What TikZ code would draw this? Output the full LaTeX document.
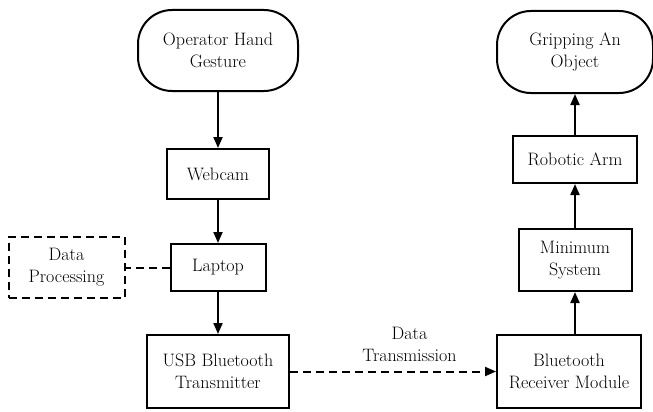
\documentclass[tikz,border=0pt]{standalone}
\usetikzlibrary{arrows.meta,positioning}
\tikzset{
  flow/.style={-{Triangle[length=11pt,width=9pt]},line width=2pt},
  link/.style={line width=2pt,dash pattern=on 8pt off 5pt},
  box/.style={draw,line width=2pt,align=center,inner sep=2pt},
  termbox/.style={box,rounded corners=34pt},
  notebox/.style={box,dash pattern=on 8pt off 5pt}
}
\begin{document}
\begin{tikzpicture}[x=1pt,y=-1pt,node distance=42pt,font=\fontsize{18}{22}\selectfont]
  \useasboundingbox (0,0) rectangle (653,412);
  % left column: capture and sending
  \node[termbox,minimum width=160pt,minimum height=81pt] (gesture) at (218,50.5) {Operator Hand\\Gesture};
  \node[box,minimum width=102pt,minimum height=50pt,below=56pt of gesture] (webcam) {Webcam};
  \node[box,minimum width=95pt,minimum height=47pt,below=43pt of webcam] (laptop) {Laptop};
  \node[notebox,minimum width=116pt,minimum height=61pt,left=44pt of laptop] (dataproc) {Data\\Processing};
  \node[box,minimum width=142pt,minimum height=73pt,below=of laptop] (usbtx) {USB Bluetooth\\Transmitter};
  % right column: receiving and gripping
  \node[box,minimum width=144pt,minimum height=73pt,right=206pt of usbtx] (receiver) {Bluetooth\\Receiver Module};
  \node[box,minimum width=113pt,minimum height=62pt,above=of receiver,xshift=6pt] (minsys) {Minimum\\System};
  \node[box,minimum width=124pt,minimum height=47pt,above=44pt of minsys] (arm) {Robotic Arm};
  \node[termbox,minimum width=156pt,minimum height=82pt,above=41pt of arm] (grip) {Gripping An\\Object};
  \draw[flow] (gesture) -- (webcam);
  \draw[flow] (webcam) -- (laptop);
  \draw[flow] (laptop) -- (usbtx);
  \draw[link] (laptop) -- (dataproc);
  \draw[link,-{Triangle[length=11pt,width=9pt]}] (usbtx) -- node[pos=0.58,above=6pt,align=center] (txlabel) {Data\\Transmission} (receiver);
  \draw[flow] (receiver.north -| minsys.south) -- (minsys.south);
  \draw[flow] (minsys) -- (arm);
  \draw[flow] (arm) -- (grip);
\end{tikzpicture}
\end{document}
